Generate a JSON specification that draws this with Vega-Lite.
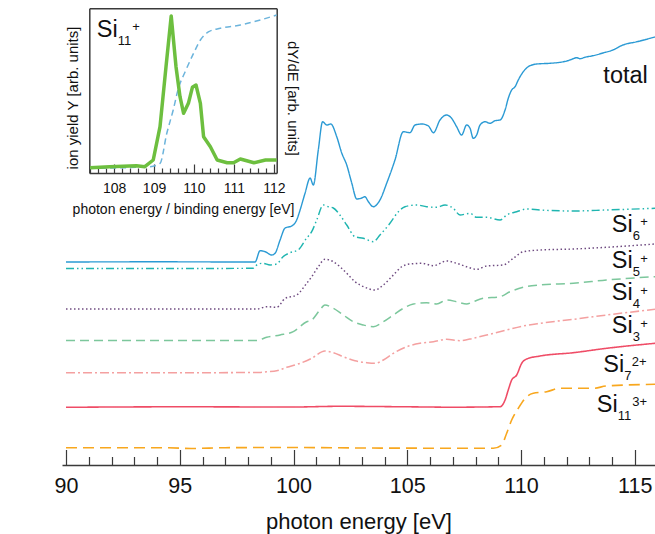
{
  "$schema": "https://vega.github.io/schema/vega-lite/v6.json",
  "width": 593,
  "height": 461,
  "autosize": {"type": "none"},
  "padding": {"left": 62, "top": 4, "right": 0, "bottom": 69},
  "background": "white",
  "config": {
    "view": {"stroke": null},
    "font": "Liberation Sans",
    "axis": {"domainColor": "#3a3a3a", "domainWidth": 1.5, "tickColor": "#3a3a3a", "tickWidth": 1.2, "labelColor": "#111111", "titleColor": "#111111", "grid": false, "labelFont": "Liberation Sans", "titleFont": "Liberation Sans", "titleFontWeight": "normal"},
    "text": {"font": "Liberation Sans", "color": "#111111"}
  },
  "datasets": {
    "series": [
      {"s":"total","E":90,"Y":203},{"s":"total","E":94,"Y":203.2},{"s":"total","E":98,"Y":203},{"s":"total","E":98.31,"Y":203},{"s":"total","E":98.53,"Y":214.3},{"s":"total","E":98.75,"Y":213.3},{"s":"total","E":99.04,"Y":210},{"s":"total","E":99.19,"Y":211.7},{"s":"total","E":99.41,"Y":225},{"s":"total","E":99.63,"Y":237},{"s":"total","E":99.92,"Y":239},{"s":"total","E":100.14,"Y":245},{"s":"total","E":100.29,"Y":255},{"s":"total","E":100.51,"Y":272},{"s":"total","E":100.73,"Y":287},{"s":"total","E":100.87,"Y":280},{"s":"total","E":101.09,"Y":315},{"s":"total","E":101.28,"Y":343.3},{"s":"total","E":101.46,"Y":340},{"s":"total","E":101.64,"Y":341},{"s":"total","E":101.9,"Y":328.3},{"s":"total","E":102.12,"Y":312},{"s":"total","E":102.34,"Y":300},{"s":"total","E":102.56,"Y":282},{"s":"total","E":102.78,"Y":266},{"s":"total","E":103.0,"Y":267},{"s":"total","E":103.14,"Y":268.3},{"s":"total","E":103.29,"Y":263.3},{"s":"total","E":103.51,"Y":258.3},{"s":"total","E":103.8,"Y":265},{"s":"total","E":104.1,"Y":282},{"s":"total","E":104.46,"Y":305},{"s":"total","E":104.83,"Y":333.3},{"s":"total","E":105.12,"Y":332.3},{"s":"total","E":105.34,"Y":340},{"s":"total","E":105.64,"Y":341},{"s":"total","E":105.93,"Y":339},{"s":"total","E":106.15,"Y":332.3},{"s":"total","E":106.44,"Y":345},{"s":"total","E":106.73,"Y":350},{"s":"total","E":106.95,"Y":346.7},{"s":"total","E":107.17,"Y":338.3},{"s":"total","E":107.39,"Y":330},{"s":"total","E":107.61,"Y":340},{"s":"total","E":107.76,"Y":336.7},{"s":"total","E":107.9,"Y":326.7},{"s":"total","E":108.05,"Y":330},{"s":"total","E":108.2,"Y":340},{"s":"total","E":108.42,"Y":343.3},{"s":"total","E":108.64,"Y":341.7},{"s":"total","E":108.86,"Y":344.3},{"s":"total","E":109.08,"Y":345},{"s":"total","E":109.3,"Y":355},{"s":"total","E":109.44,"Y":366.7},{"s":"total","E":109.59,"Y":375},{"s":"total","E":109.74,"Y":378.3},{"s":"total","E":109.88,"Y":385},{"s":"total","E":110.1,"Y":393.3},{"s":"total","E":110.32,"Y":398.3},{"s":"total","E":110.69,"Y":401},{"s":"total","E":111.27,"Y":401.7},{"s":"total","E":111.57,"Y":402.3},{"s":"total","E":112.01,"Y":404},{"s":"total","E":112.23,"Y":405.7},{"s":"total","E":112.45,"Y":407.3},{"s":"total","E":112.59,"Y":406.3},{"s":"total","E":112.81,"Y":407.7},{"s":"total","E":113.16,"Y":409.3},{"s":"total","E":113.6,"Y":412},{"s":"total","E":114.04,"Y":415},{"s":"total","E":114.48,"Y":420},{"s":"total","E":115.1,"Y":423.3},{"s":"total","E":115.89,"Y":428},

      {"s":"Si6+","E":90,"Y":196.5},{"s":"Si6+","E":95,"Y":196.5},{"s":"Si6+","E":98.22,"Y":196.7},{"s":"Si6+","E":98.44,"Y":201},{"s":"Si6+","E":98.66,"Y":201.7},{"s":"Si6+","E":98.97,"Y":200},{"s":"Si6+","E":99.26,"Y":201},{"s":"Si6+","E":99.54,"Y":208.3},{"s":"Si6+","E":99.85,"Y":212.3},{"s":"Si6+","E":100.2,"Y":215},{"s":"Si6+","E":100.58,"Y":227},{"s":"Si6+","E":100.8,"Y":233.3},{"s":"Si6+","E":101.02,"Y":245},{"s":"Si6+","E":101.31,"Y":260},{"s":"Si6+","E":101.53,"Y":258.3},{"s":"Si6+","E":101.75,"Y":257},{"s":"Si6+","E":102.04,"Y":250},{"s":"Si6+","E":102.34,"Y":240},{"s":"Si6+","E":102.7,"Y":228.3},{"s":"Si6+","E":103.07,"Y":226.7},{"s":"Si6+","E":103.51,"Y":223.3},{"s":"Si6+","E":103.8,"Y":230},{"s":"Si6+","E":104.24,"Y":241.7},{"s":"Si6+","E":104.61,"Y":253.3},{"s":"Si6+","E":104.9,"Y":258.3},{"s":"Si6+","E":105.42,"Y":260},{"s":"Si6+","E":105.85,"Y":258.3},{"s":"Si6+","E":106.29,"Y":257.7},{"s":"Si6+","E":106.66,"Y":260},{"s":"Si6+","E":107.02,"Y":256.7},{"s":"Si6+","E":107.32,"Y":250},{"s":"Si6+","E":107.76,"Y":251.7},{"s":"Si6+","E":108.05,"Y":247.7},{"s":"Si6+","E":108.49,"Y":247.7},{"s":"Si6+","E":109.08,"Y":245},{"s":"Si6+","E":109.37,"Y":250},{"s":"Si6+","E":109.81,"Y":253.3},{"s":"Si6+","E":110.25,"Y":256},{"s":"Si6+","E":110.84,"Y":255},{"s":"Si6+","E":112.3,"Y":254},{"s":"Si6+","E":113.76,"Y":255},{"s":"Si6+","E":115.89,"Y":256.7},

      {"s":"Si5+","E":90,"Y":156},{"s":"Si5+","E":95,"Y":156},{"s":"Si5+","E":98.4,"Y":156},{"s":"Si5+","E":98.82,"Y":158.3},{"s":"Si5+","E":99.26,"Y":157.7},{"s":"Si5+","E":99.63,"Y":166.5},{"s":"Si5+","E":100.14,"Y":170},{"s":"Si5+","E":100.58,"Y":181.7},{"s":"Si5+","E":100.8,"Y":188.3},{"s":"Si5+","E":101.09,"Y":198.3},{"s":"Si5+","E":101.38,"Y":205.7},{"s":"Si5+","E":101.75,"Y":203.3},{"s":"Si5+","E":102.04,"Y":198.3},{"s":"Si5+","E":102.34,"Y":191.7},{"s":"Si5+","E":102.7,"Y":183.3},{"s":"Si5+","E":103.14,"Y":177.7},{"s":"Si5+","E":103.58,"Y":175},{"s":"Si5+","E":103.95,"Y":180},{"s":"Si5+","E":104.39,"Y":190},{"s":"Si5+","E":104.76,"Y":198.3},{"s":"Si5+","E":105.12,"Y":201},{"s":"Si5+","E":105.64,"Y":201.7},{"s":"Si5+","E":106.15,"Y":199.3},{"s":"Si5+","E":106.73,"Y":204},{"s":"Si5+","E":107.17,"Y":201.7},{"s":"Si5+","E":107.61,"Y":198.3},{"s":"Si5+","E":108.05,"Y":195.7},{"s":"Si5+","E":108.49,"Y":199},{"s":"Si5+","E":109.22,"Y":200},{"s":"Si5+","E":109.66,"Y":206.7},{"s":"Si5+","E":110.1,"Y":213.3},{"s":"Si5+","E":110.84,"Y":215},{"s":"Si5+","E":112.3,"Y":216},{"s":"Si5+","E":113.76,"Y":217.7},{"s":"Si5+","E":115.89,"Y":221},

      {"s":"Si4+","E":90,"Y":124.5},{"s":"Si4+","E":95,"Y":124.5},{"s":"Si4+","E":98.38,"Y":124.5},{"s":"Si4+","E":98.82,"Y":127.7},{"s":"Si4+","E":99.41,"Y":130},{"s":"Si4+","E":99.99,"Y":133.3},{"s":"Si4+","E":100.58,"Y":143.3},{"s":"Si4+","E":100.8,"Y":145},{"s":"Si4+","E":101.16,"Y":155},{"s":"Si4+","E":101.38,"Y":160},{"s":"Si4+","E":101.75,"Y":156.7},{"s":"Si4+","E":102.19,"Y":150},{"s":"Si4+","E":102.63,"Y":143.3},{"s":"Si4+","E":103.07,"Y":140},{"s":"Si4+","E":103.51,"Y":138.3},{"s":"Si4+","E":103.95,"Y":143.3},{"s":"Si4+","E":104.39,"Y":150},{"s":"Si4+","E":104.83,"Y":156.7},{"s":"Si4+","E":105.27,"Y":161},{"s":"Si4+","E":105.85,"Y":162.3},{"s":"Si4+","E":106.29,"Y":161},{"s":"Si4+","E":106.73,"Y":165},{"s":"Si4+","E":107.17,"Y":163.3},{"s":"Si4+","E":107.61,"Y":161},{"s":"Si4+","E":107.9,"Y":163.3},{"s":"Si4+","E":108.34,"Y":166.7},{"s":"Si4+","E":109.08,"Y":168.3},{"s":"Si4+","E":109.52,"Y":173.3},{"s":"Si4+","E":110.1,"Y":177.7},{"s":"Si4+","E":110.84,"Y":180},{"s":"Si4+","E":112.3,"Y":181.7},{"s":"Si4+","E":113.76,"Y":185},{"s":"Si4+","E":115.89,"Y":188.3},

      {"s":"Si3+","E":90,"Y":92.3},{"s":"Si3+","E":95,"Y":92.3},{"s":"Si3+","E":98.5,"Y":92.5},{"s":"Si3+","E":98.82,"Y":93.3},{"s":"Si3+","E":99.26,"Y":94.3},{"s":"Si3+","E":99.7,"Y":97.7},{"s":"Si3+","E":100.29,"Y":101.7},{"s":"Si3+","E":100.8,"Y":106.7},{"s":"Si3+","E":101.38,"Y":114},{"s":"Si3+","E":101.75,"Y":112.3},{"s":"Si3+","E":102.19,"Y":108.3},{"s":"Si3+","E":102.7,"Y":104.3},{"s":"Si3+","E":103.22,"Y":102.3},{"s":"Si3+","E":103.58,"Y":101.7},{"s":"Si3+","E":103.95,"Y":105},{"s":"Si3+","E":104.39,"Y":111.7},{"s":"Si3+","E":104.98,"Y":118.3},{"s":"Si3+","E":105.56,"Y":121.7},{"s":"Si3+","E":106.15,"Y":123.3},{"s":"Si3+","E":106.73,"Y":125.7},{"s":"Si3+","E":107.32,"Y":124.3},{"s":"Si3+","E":107.9,"Y":126.7},{"s":"Si3+","E":108.49,"Y":130},{"s":"Si3+","E":109.37,"Y":135},{"s":"Si3+","E":110.1,"Y":139},{"s":"Si3+","E":110.84,"Y":141.7},{"s":"Si3+","E":112.3,"Y":145.7},{"s":"Si3+","E":113.76,"Y":150},{"s":"Si3+","E":115.89,"Y":155.7},

      {"s":"Si7 2+","E":90,"Y":57.7},{"s":"Si7 2+","E":95,"Y":58.2},{"s":"Si7 2+","E":100,"Y":58},{"s":"Si7 2+","E":102,"Y":58.7},{"s":"Si7 2+","E":105,"Y":58.2},{"s":"Si7 2+","E":107,"Y":57.8},{"s":"Si7 2+","E":109.08,"Y":58.3},{"s":"Si7 2+","E":109.3,"Y":65},{"s":"Si7 2+","E":109.44,"Y":75},{"s":"Si7 2+","E":109.59,"Y":85},{"s":"Si7 2+","E":109.81,"Y":90},{"s":"Si7 2+","E":110.03,"Y":101.7},{"s":"Si7 2+","E":110.25,"Y":106},{"s":"Si7 2+","E":110.84,"Y":109},{"s":"Si7 2+","E":112.3,"Y":112.3},{"s":"Si7 2+","E":113.76,"Y":116.7},{"s":"Si7 2+","E":115.89,"Y":121.7},

      {"s":"Si11 3+","E":90,"Y":17.3},{"s":"Si11 3+","E":94.5,"Y":17.2},{"s":"Si11 3+","E":95.5,"Y":16.5},{"s":"Si11 3+","E":97,"Y":17.3},{"s":"Si11 3+","E":100,"Y":17.5},{"s":"Si11 3+","E":103,"Y":17},{"s":"Si11 3+","E":106,"Y":16.8},{"s":"Si11 3+","E":108.78,"Y":16.7},{"s":"Si11 3+","E":109.15,"Y":20},{"s":"Si11 3+","E":109.37,"Y":31.7},{"s":"Si11 3+","E":109.59,"Y":45},{"s":"Si11 3+","E":109.88,"Y":56.7},{"s":"Si11 3+","E":110.25,"Y":68.3},{"s":"Si11 3+","E":110.54,"Y":71.7},{"s":"Si11 3+","E":111.13,"Y":73.3},{"s":"Si11 3+","E":111.71,"Y":76.7},{"s":"Si11 3+","E":112.3,"Y":76.7},{"s":"Si11 3+","E":113.18,"Y":76.7},{"s":"Si11 3+","E":113.76,"Y":79},{"s":"Si11 3+","E":115.89,"Y":80.7}
    ],
    "labels": [
      {"main":"total","sub":"","sup":"","E":113.62,"Y":381.7},
      {"main":"Si","sub":"6","sup":"+","E":113.99,"Y":233.3},
      {"main":"Si","sub":"5","sup":"+","E":113.99,"Y":196.7},
      {"main":"Si","sub":"4","sup":"+","E":113.99,"Y":165},
      {"main":"Si","sub":"3","sup":"+","E":113.99,"Y":131.7},
      {"main":"Si","sub":"7","sup":"2+","E":113.62,"Y":93.3},
      {"main":"Si","sub":"11","sup":"3+","E":113.33,"Y":53.3},
      {"main":"Si","sub":"11","sup":"+","E":91.35,"Y":428.3}
    ],
    "inset": [
      {"s":"Y","E":107.4,"Y":5.3},{"s":"Y","E":107.89,"Y":6.3},{"s":"Y","E":108.56,"Y":7.3},{"s":"Y","E":108.77,"Y":6.3},{"s":"Y","E":108.98,"Y":13},{"s":"Y","E":109.15,"Y":46.3},{"s":"Y","E":109.3,"Y":106.3},{"s":"Y","E":109.43,"Y":157},{"s":"Y","E":109.55,"Y":106.3},{"s":"Y","E":109.65,"Y":76.3},{"s":"Y","E":109.74,"Y":59.7},{"s":"Y","E":109.86,"Y":69.7},{"s":"Y","E":109.96,"Y":85.7},{"s":"Y","E":110.05,"Y":88},{"s":"Y","E":110.16,"Y":69.7},{"s":"Y","E":110.24,"Y":36.3},{"s":"Y","E":110.41,"Y":26.3},{"s":"Y","E":110.58,"Y":13},{"s":"Y","E":110.83,"Y":10.3},{"s":"Y","E":110.99,"Y":10.3},{"s":"Y","E":111.16,"Y":14},{"s":"Y","E":111.5,"Y":10.3},{"s":"Y","E":111.79,"Y":13},{"s":"Y","E":112.07,"Y":13},
      {"s":"dYdE","E":107.4,"Y":4.7},{"s":"dYdE","E":108.9,"Y":6.3},{"s":"dYdE","E":109.15,"Y":9.7},{"s":"dYdE","E":109.32,"Y":39.7},{"s":"dYdE","E":109.48,"Y":63},{"s":"dYdE","E":109.61,"Y":84.7},{"s":"dYdE","E":109.78,"Y":101.3},{"s":"dYdE","E":109.99,"Y":119.7},{"s":"dYdE","E":110.16,"Y":133},{"s":"dYdE","E":110.37,"Y":141.3},{"s":"dYdE","E":110.66,"Y":144.7},{"s":"dYdE","E":111.16,"Y":148},{"s":"dYdE","E":111.66,"Y":153},{"s":"dYdE","E":112.07,"Y":158}
    ]
  },
  "layer": [
    {
      "layer": [
        {
          "data": {"name": "series"},
          "mark": {"type": "line", "interpolate": "monotone"},
          "encoding": {
            "x": {"field": "E", "type": "quantitative", "scale": {"domain": [89.824, 115.89], "nice": false, "zero": false},
              "axis": {"orient": "bottom", "values": [90,91,92,93,94,95,96,97,98,99,100,101,102,103,104,105,106,107,108,109,110,111,112,113,114,115],
                "tickSize": {"condition": {"test": "datum.value % 5 === 0", "value": -15.5}, "value": -8.5},
                "labelExpr": "datum.value % 5 === 0 ? datum.label : ''", "labelFontSize": 21.5, "labelPadding": 26, "labelOverlap": false, "labelFlush": false,
                "title": "photon energy [eV]", "titleFontSize": 22, "titlePadding": 7}},
            "y": {"field": "Y", "type": "quantitative", "scale": {"domain": [0, 461], "nice": false, "zero": false},
              "axis": {"orient": "left", "ticks": false, "labels": false, "title": "partial ion yield [arb. units]", "titleFontSize": 22, "titlePadding": 26, "titleY": 237}},
            "color": {"field": "s", "type": "nominal", "legend": null, "scale": {"domain": ["total","Si6+","Si5+","Si4+","Si3+","Si7 2+","Si11 3+"], "range": ["#2b9ad4","#1fb5b0","#6e4a80","#7cc79c","#f4a0a0","#ef4c66","#f8a71e"]}},
            "strokeDash": {"field": "s", "type": "nominal", "legend": null, "scale": {"domain": ["total","Si6+","Si5+","Si4+","Si3+","Si7 2+","Si11 3+"], "range": [[1,0],[8,3,1.5,3,1.5,3],[1.5,2.5],[9,5],[9,3,2,3],[1,0],[11,6]]}},
            "strokeWidth": {"field": "s", "type": "nominal", "legend": null, "scale": {"domain": ["total","Si6+","Si5+","Si4+","Si3+","Si7 2+","Si11 3+"], "range": [1.4,1.6,1.6,1.3,1.3,3.2,3]}}
          }
        },
        {
          "data": {"name": "labels"},
          "layer": [
            {
              "mark": {"type": "text", "align": "left", "baseline": "alphabetic", "fontSize": 23.5},
              "encoding": {
                "x": {"field": "E", "type": "quantitative", "scale": {"domain": [89.824, 115.89], "nice": false, "zero": false}, "axis": {"orient": "top", "ticks": false, "labels": false, "title": null, "domain": true}},
                "y": {"field": "Y", "type": "quantitative", "scale": {"domain": [0, 461], "nice": false, "zero": false}, "axis": null},
                "text": {"field": "main"}
              }
            },
            {
              "transform": [{"filter": "datum.sub != ''"}],
              "mark": {"type": "text", "align": "left", "baseline": "alphabetic", "fontSize": 13, "dx": 21, "dy": 8},
              "encoding": {
                "x": {"field": "E", "type": "quantitative", "axis": null},
                "y": {"field": "Y", "type": "quantitative", "axis": null},
                "text": {"field": "sub"}
              }
            },
            {
              "transform": [{"filter": "length(datum.sub) == 1"}],
              "mark": {"type": "text", "align": "left", "baseline": "alphabetic", "fontSize": 13, "dx": 28.5, "dy": -5.5},
              "encoding": {
                "x": {"field": "E", "type": "quantitative", "axis": null},
                "y": {"field": "Y", "type": "quantitative", "axis": null},
                "text": {"field": "sup"}
              }
            },
            {
              "transform": [{"filter": "length(datum.sub) == 2"}],
              "mark": {"type": "text", "align": "left", "baseline": "alphabetic", "fontSize": 13, "dx": 35.5, "dy": -5.5},
              "encoding": {
                "x": {"field": "E", "type": "quantitative", "axis": null},
                "y": {"field": "Y", "type": "quantitative", "axis": null},
                "text": {"field": "sup"}
              }
            }
          ]
        }
      ],
      "resolve": {"axis": {"x": "independent"}}
    },
    {
      "data": {"name": "inset"},
      "layer": [
        {
          "transform": [{"filter": "datum.s == 'dYdE'"}],
          "mark": {"type": "line", "color": "#6cb4dc", "strokeWidth": 1.5, "strokeDash": [6, 4], "interpolate": "monotone"},
          "encoding": {
            "x": {"field": "E", "type": "quantitative", "scale": {"domain": [107.38, 112.07], "range": [27.3, 214.7], "nice": false, "zero": false},
              "axis": {"orient": "top", "offset": -4.3, "ticks": false, "labels": false, "title": null, "domain": true}},
            "y": {"field": "Y", "type": "quantitative", "scale": {"domain": [0, 164.7], "range": [169, 4.3], "nice": false, "zero": false},
              "axis": {"orient": "right", "offset": -378.3, "ticks": false, "labels": false, "title": "dY/dE [arb. units]", "titleFontSize": 15, "titlePadding": 8, "titleAngle": 90, "titleY": 94}}
          }
        },
        {
          "transform": [{"filter": "datum.s == 'Y'"}],
          "mark": {"type": "line", "color": "#6dbf3f", "strokeWidth": 3.5, "strokeJoin": "round"},
          "encoding": {
            "x": {"field": "E", "type": "quantitative", "scale": {"domain": [107.38, 112.07], "range": [27.3, 214.7], "nice": false, "zero": false},
              "axis": {"orient": "bottom", "offset": -292, "values": [107.4,107.6,107.8,108,108.2,108.4,108.6,108.8,109,109.2,109.4,109.6,109.8,110,110.2,110.4,110.6,110.8,111,111.2,111.4,111.6,111.8,112],
                "tickSize": {"condition": {"test": "abs(datum.value - round(datum.value)) < 0.01", "value": -9}, "value": -5},
                "labelExpr": "abs(datum.value - round(datum.value)) < 0.01 ? format(datum.value, 'd') : ''", "labelFontSize": 14, "labelPadding": 17.7, "labelOverlap": false, "labelFlush": false,
                "title": "photon energy / binding energy [eV]", "titleFontSize": 14, "titlePadding": 3}},
            "y": {"field": "Y", "type": "quantitative", "scale": {"domain": [0, 164.7], "range": [169, 4.3], "nice": false, "zero": false},
              "axis": {"orient": "left", "offset": -27.3, "ticks": false, "labels": false, "title": "ion yield Y [arb. units]", "titleFontSize": 15, "titlePadding": 9, "titleY": 93.5}}
          }
        }
      ],
      "resolve": {"axis": {"x": "independent", "y": "independent"}}
    }
  ],
  "resolve": {"scale": {"x": "independent", "y": "independent"}}
}
